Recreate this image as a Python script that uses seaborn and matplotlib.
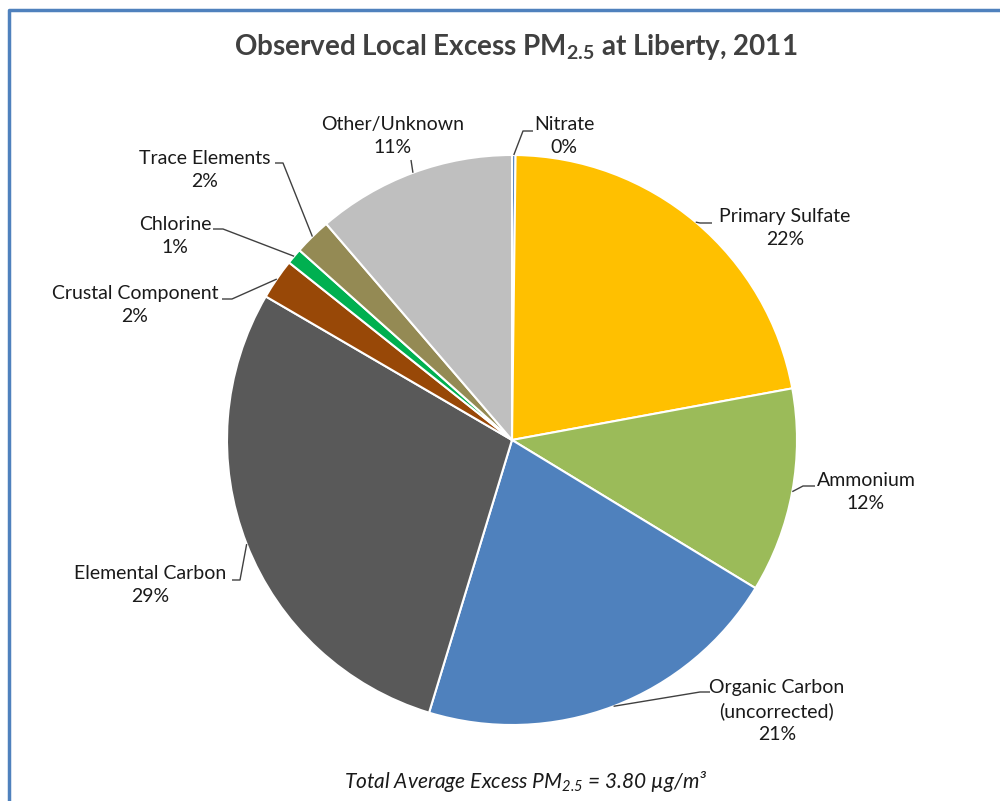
import numpy as np
import matplotlib
matplotlib.use("Agg")
import matplotlib.pyplot as plt
import seaborn as sns

# ---- data ----
categories = ["Nitrate", "Primary Sulfate", "Ammonium", "Organic Carbon\n(uncorrected)",
              "Elemental Carbon", "Crustal Component", "Chlorine", "Trace Elements", "Other/Unknown"]
values = [0.2, 21.9, 11.6, 21.0, 28.7, 2.3, 0.9, 2.1, 11.3]
colors = ["#4F81BD", "#FFC000", "#9BBB59", "#4F81BD", "#595959",
          "#984807", "#00B050", "#948A54", "#BFBFBF"]

sns.set_theme(style="white")
plt.rcParams['font.family'] = ['Lato', 'DejaVu Sans']
plt.rcParams['mathtext.fontset'] = 'custom'
plt.rcParams['mathtext.rm'] = 'Lato'
plt.rcParams['mathtext.it'] = 'Lato:italic'
plt.rcParams['mathtext.bf'] = 'Lato:bold'

W, H = 1000, 801
fig = plt.figure(figsize=(W / 100, H / 100), dpi=100)
ax = fig.add_axes([0, 0, 1, 1])

def Y(py):
    return H - py

cx, cy, R = 512, 440, 285
wedges, _ = ax.pie(values, colors=sns.color_palette(colors), startangle=90, counterclock=False,
                   center=(cx, Y(cy)), radius=R,
                   wedgeprops=dict(edgecolor="white", linewidth=1.5))
ax.set_xlim(0, W)
ax.set_ylim(0, H)
ax.set_aspect('equal')
ax.axis('off')

total = sum(values)
pct_labels = [f"{c}\n{round(v / total * 100):.0f}%" for c, v in zip(categories, values)]

# layout: text block centre (px), elbow (px), leader end (px)
layout = [
    ((564, 136), (523, 131), (533, 131)),
    ((785, 228), (700, 223), (712, 223)),
    ((866, 492), (803, 486), (815, 486)),
    ((777, 711), (700, 692), (710, 692)),
    ((150, 585), (240, 580), (232, 580)),
    ((135, 305), (232, 299), (222, 299)),
    ((175, 236), (223, 229), (213, 229)),
    ((205, 170), (283, 163), (275, 163)),
    ((393, 136), (411, 160), (411, 160)),
]

txtcol = "#1a1a1a"
for w, lab, (tc, elb, end) in zip(wedges, pct_labels, layout):
    ang = np.deg2rad((w.theta1 + w.theta2) / 2)
    ax_x = cx + R * np.cos(ang)
    ax_y = Y(cy) + R * np.sin(ang)
    ax.plot([ax_x, elb[0], end[0]], [ax_y, Y(elb[1]), Y(end[1])],
            color="#404040", lw=1.0, solid_capstyle='butt')
    ax.text(tc[0], Y(tc[1]), lab, ha='center', va='center', fontsize=14,
            color=txtcol, linespacing=1.4)

fig.text(0.516, Y(47) / H, r"Observed Local Excess PM$\mathregular{_{2.5}}$ at Liberty, 2011",
         ha='center', va='center', fontsize=20, fontweight='bold', color="#404040")
fig.text(0.526, Y(782) / H, r"Total Average Excess PM$\mathregular{_{2.5}}$ = 3.80 µg/m³",
         ha='center', va='center', fontsize=15, fontstyle='italic', color=txtcol)

# chart border (left and top)
ax.plot([9, 9, W], [0, Y(10), Y(10)], color="#4F81BD", lw=2.5, solid_capstyle='butt',
        clip_on=False)

fig.savefig("out.png", dpi=100, facecolor="white")
